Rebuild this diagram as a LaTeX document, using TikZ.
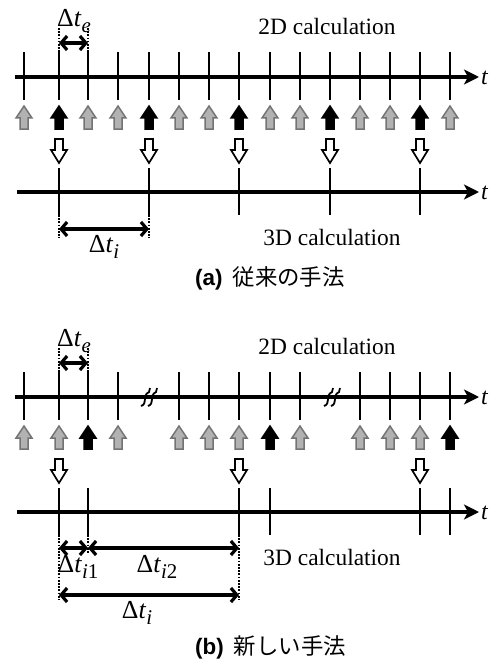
\documentclass[tikz,border=0pt]{standalone}
\usepackage{fontspec}
\setmainfont{Liberation Serif}
\newfontfamily\jpfont{Noto Sans CJK JP}
\newfontfamily\capsans{Liberation Sans}
\usetikzlibrary{arrows.meta}

% Delta t with a large italic subscript
\newcommand\dt[1]{{\fontsize{26}{28}\selectfont Δ\textit{t}}\raisebox{-0.5ex}{\fontsize{21}{21}\selectfont #1}}

\tikzset{
  lbl/.style={font=\fontsize{23.5}{26}\selectfont, inner sep=0pt},
  capt/.style={font=\fontsize{22.5}{26}\selectfont, inner sep=0pt},
  axis/.style={line width=3.2bp, -{Stealth[length=15bp,width=15bp,inset=4bp]}},
  tickline/.style={line width=1.9bp},
  ext/.style={line width=1.7bp, dash pattern=on 1.7bp off 1.5bp},
  dim/.style={line width=3.2bp, {Straight Barb[length=6bp,width=14bp]}-{Straight Barb[length=6bp,width=14bp]}},
  brk/.style={line width=1.8bp},
  grayup/.style={fill=black!30, draw=black!55, line width=1.5bp},
  blackup/.style={fill=black, draw=black, line width=1.5bp},
  hollowdown/.style={fill=white, draw=black, line width=1.7bp},
  uparrow/.pic={\path[pic actions] (0,0) -- (8,12) -- (4,12) -- (4,23) -- (-4,23) -- (-4,12) -- (-8,12) -- cycle;},
  downarrow/.pic={\path[pic actions] (-4,0) -- (4,0) -- (4,11) -- (8,11) -- (0,24) -- (-8,11) -- (-4,11) -- cycle;},
  breakmark/.pic={
    \draw[brk] (-9,9) .. controls (-2,7) and (-8,-2) .. (-1,-5) -- (0,-9);
    \draw[brk] (-2,9) .. controls (5,7) and (-1,-2) .. (6,-5) -- (7,-9);
  },
}

\begin{document}
\begin{tikzpicture}[x=1bp, y=-1bp]
\useasboundingbox (0,0) rectangle (494,664);

% tick abscissae of the explicit time steps
\def\xs{{24,59,88,118,149,179,209,239,270,300,330,360,390,420,450}}

%% ---------------- (a) ----------------
\coordinate (a2s) at (15,77);
\coordinate (a2e) at (479,77);
\draw[axis] (a2s) -- (a2e);
\node[lbl, font=\fontsize{24}{26}\selectfont\itshape, anchor=west] (a2t) at (481,78) {t};
\node[lbl] (a2lab) at (327,26) {2D calculation};

\foreach \k in {0,...,14}{
  \pgfmathsetmacro\xx{\xs[\k]}
  \coordinate (a2top\k) at (\xx,52);
  \coordinate (a2bot\k) at (\xx,100);
  \draw[tickline] (a2top\k) -- (a2bot\k);
  \pgfmathtruncatemacro\m{mod(\k,3)}
  \ifnum\m=1
    \pic[blackup] at (\xx,106) {uparrow};
    \pic[hollowdown] at (\xx,139) {downarrow};
  \else
    \pic[grayup] at (\xx,106) {uparrow};
  \fi
}

\coordinate (a3s) at (17,192);
\coordinate (a3e) at (479,192);
\draw[axis] (a3s) -- (a3e);
\node[lbl, font=\fontsize{24}{26}\selectfont\itshape, anchor=west] (a3t) at (481,193) {t};
\node[lbl] (a3lab) at (332,237) {3D calculation};
\foreach \k in {1,4,7,10,13}{
  \pgfmathsetmacro\xx{\xs[\k]}
  \coordinate (a3top\k) at (\xx,168);
  \coordinate (a3bot\k) at (\xx,215);
  \draw[tickline] (a3top\k) -- (a3bot\k);
}

% explicit step
\coordinate (ae1) at (59,28);
\coordinate (ae2) at (88,28);
\draw[ext] (ae1) -- (a2top1);
\draw[ext] (ae2) -- (a2top2);
\draw[dim] (59,43) -- (88,43);
\node[lbl] (adte) at (74,21) {\dt{\textit{e}}};

% implicit step
\coordinate (ai1) at (59,238);
\coordinate (ai2) at (149,238);
\draw[ext] (a3bot1) -- (ai1);
\draw[ext] (a3bot4) -- (ai2);
\draw[dim] (59,229) -- (149,229);
\node[lbl] (adti) at (104,247) {\dt{\textit{i}}};

\node[capt, anchor=west] (capa) at (195,278) {{\capsans\bfseries (a)}\hspace{0.45em}{\jpfont 従来の手法}};

%% ---------------- (b) ----------------
\coordinate (b2s) at (15,397);
\coordinate (b2e) at (479,397);
\draw[axis] (b2s) -- (b2e);
\node[lbl, font=\fontsize{24}{26}\selectfont\itshape, anchor=west] (b2t) at (481,398) {t};
\node[lbl] (b2lab) at (327,346) {2D calculation};

\foreach \k in {0,1,2,3,5,6,7,8,9,11,12,13,14}{
  \pgfmathsetmacro\xx{\xs[\k]}
  \coordinate (b2top\k) at (\xx,372);
  \coordinate (b2bot\k) at (\xx,420);
  \draw[tickline] (b2top\k) -- (b2bot\k);
  \pgfmathtruncatemacro\m{mod(\k,6)}
  \ifnum\m=2
    \pic[blackup] at (\xx,426) {uparrow};
  \else
    \pic[grayup] at (\xx,426) {uparrow};
  \fi
}
\foreach \k in {1,7,13}{
  \pgfmathsetmacro\xx{\xs[\k]}
  \pic[hollowdown] at (\xx,459) {downarrow};
}
\pic at (150,397) {breakmark};
\pic at (333,397) {breakmark};

\coordinate (b3s) at (17,512);
\coordinate (b3e) at (479,512);
\draw[axis] (b3s) -- (b3e);
\node[lbl, font=\fontsize{24}{26}\selectfont\itshape, anchor=west] (b3t) at (481,513) {t};
\node[lbl] (b3lab) at (332,557) {3D calculation};
\foreach \k in {1,2,7,8,13,14}{
  \pgfmathsetmacro\xx{\xs[\k]}
  \coordinate (b3top\k) at (\xx,488);
  \coordinate (b3bot\k) at (\xx,535);
  \draw[tickline] (b3top\k) -- (b3bot\k);
}

% explicit step
\coordinate (be1) at (59,348);
\coordinate (be2) at (88,348);
\draw[ext] (be1) -- (b2top1);
\draw[ext] (be2) -- (b2top2);
\draw[dim] (59,363) -- (88,363);
\node[lbl] (bdte) at (74,341) {\dt{\textit{e}}};

% split implicit step
\coordinate (bi1) at (59,600);
\coordinate (bi2) at (88,553);
\coordinate (bi3) at (239,600);
\draw[ext] (b3bot1) -- (bi1);
\draw[ext] (b3bot2) -- (bi2);
\draw[ext] (b3bot7) -- (bi3);
\draw[dim] (59,548) -- (88,548);
\draw[dim] (88,548) -- (239,548);
\draw[dim] (59,595) -- (239,595);
\node[lbl] (bdti1) at (78,567) {\dt{\textit{i}1}};
\node[lbl] (bdti2) at (157,567) {\dt{\textit{i}2}};
\node[lbl] (bdti) at (137,613) {\dt{\textit{i}}};

\node[capt, anchor=west] (capb) at (195,647) {{\capsans\bfseries (b)}\hspace{0.45em}{\jpfont 新しい手法}};
\end{tikzpicture}
\end{document}
